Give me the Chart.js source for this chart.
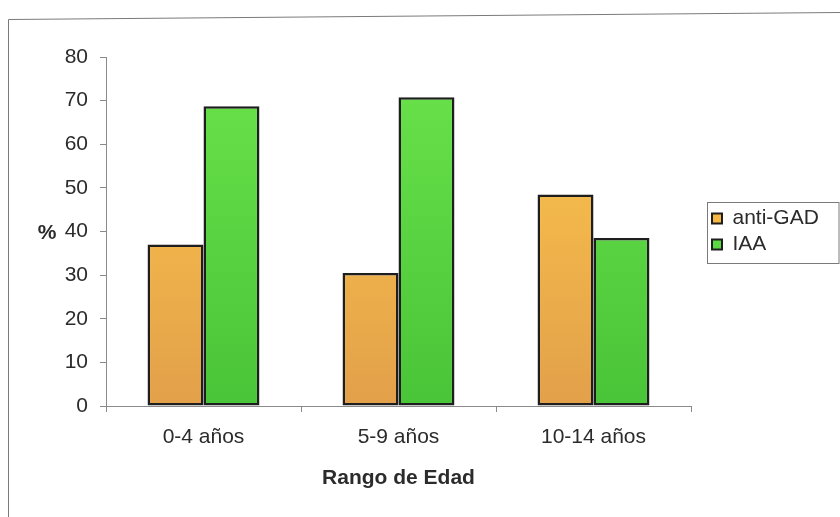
<!DOCTYPE html>
<html>
<head>
<meta charset="utf-8">
<script src="https://cdn.jsdelivr.net/npm/chart.js@4.4.1/dist/chart.umd.min.js"></script>
<style>
  html, body { margin: 0; padding: 0; background: #ffffff; }
  #wrap { width: 840px; height: 517px; position: relative; }
</style>
</head>
<body>
<div id="wrap"><canvas id="chart" width="840" height="517"></canvas></div>
<script>
// Age ranges and percentage of positive antibodies per range
const categories = ['0-4 años', '5-9 años', '10-14 años'];
const antiGAD = [37, 30.5, 48.5];
const IAA = [68.7, 70.8, 38.5];
const yTicks = { min: 0, max: 80, step: 10 };

const FONT = "'Liberation Sans', Arial, sans-serif";
const TEXT = '#2b2b2b';
const AXIS = '#8a8a8a';

function vGradient(ctx, top, bottom) {
  const { chart } = ctx;
  const area = chart.chartArea;
  if (!area) return top;
  const g = chart.ctx.createLinearGradient(0, area.top, 0, area.bottom);
  g.addColorStop(0, top);
  g.addColorStop(1, bottom);
  return g;
}

// Page frame, legend frame and the horizontal "%" axis label
const decorations = {
  id: 'decorations',
  beforeLayout(chart) {
    const lg = chart.legend;
    if (lg && !lg._fixedFit) {
      const fit = lg.fit.bind(lg);
      lg.fit = function () { fit(); this.width = 149; };
      lg._fixedFit = true;
    }
  },
  afterLayout(chart) {
    const lg = chart.legend;
    const area = chart.chartArea;
    if (lg) {
      lg.left += 16; lg.right += 16;
      lg.top = area.top; lg.bottom = area.bottom; lg.height = area.bottom - area.top;
    }
  },
  beforeDraw(chart) {
    const c = chart.ctx;
    c.save();
    c.strokeStyle = '#7a7a7a';
    c.lineWidth = 1;
    c.beginPath();
    c.moveTo(8.5, 517);
    c.lineTo(8.5, 19.5);
    c.lineTo(840, 12.5);
    c.stroke();
    c.restore();
  },
  afterDraw(chart) {
    const c = chart.ctx;
    const lg = chart.legend;
    const area = chart.chartArea;
    c.save();
    // legend frame
    const cy = (lg.top + lg.bottom) / 2;
    c.strokeStyle = '#7a7a7a';
    c.lineWidth = 1;
    c.strokeRect(lg.left + 0.5, Math.round(cy - 30) + 0.5, 839 - lg.left - 0.5, 61);
    // "%" axis title
    c.fillStyle = TEXT;
    c.font = 'bold 21px ' + FONT;
    c.textAlign = 'center';
    c.textBaseline = 'middle';
    c.fillText('%', 47, (area.top + area.bottom) / 2 + 2);
    c.restore();
  }
};

new Chart(document.getElementById('chart'), {
  type: 'bar',
  data: {
    labels: categories,
    datasets: [
      {
        label: 'anti-GAD',
        data: antiGAD,
        backgroundColor: ctx => vGradient(ctx, '#ffc94c', '#e2a04a'),
        borderColor: '#1e1e1e',
        borderWidth: 2.5,
        borderSkipped: false
      },
      {
        label: 'IAA',
        data: IAA,
        backgroundColor: ctx => vGradient(ctx, '#6ae34b', '#4ac438'),
        borderColor: '#1e1e1e',
        borderWidth: 2.5,
        borderSkipped: false
      }
    ]
  },
  options: {
    responsive: false,
    animation: false,
    devicePixelRatio: 1,
    layout: { padding: { top: 57, left: 0, right: 0, bottom: 0 } },
    datasets: { bar: { categoryPercentage: 0.574, barPercentage: 1.0 } },
    plugins: {
      tooltip: { enabled: false },
      legend: {
        position: 'right',
        align: 'center',
        labels: {
          boxWidth: 10,
          boxHeight: 10,
          padding: 5,
          color: TEXT,
          font: { family: FONT, size: 21 },
          generateLabels(chart) {
            const base = Chart.defaults.plugins.legend.labels.generateLabels(chart);
            const fills = ['#f5b845', '#5cd844'];
            return base.map((it, i) => Object.assign(it, { fillStyle: fills[i], strokeStyle: '#1e1e1e', lineWidth: 2 }));
          }
        }
      }
    },
    scales: {
      x: {
        afterFit(scale) { scale.height = 111; },
        grid: { offset: true, drawOnChartArea: false, drawTicks: true, tickLength: 6, color: AXIS },
        border: { color: AXIS, width: 1 },
        ticks: { color: TEXT, font: { family: FONT, size: 21 }, padding: 13, maxRotation: 0 },
        title: {
          display: true,
          text: 'Rango de Edad',
          color: TEXT,
          font: { family: FONT, size: 21, weight: 'bold' },
          padding: { top: 0, bottom: 26 }
        }
      },
      y: {
        min: yTicks.min,
        max: yTicks.max,
        afterFit(scale) { scale.width = 106; },
        grid: { drawOnChartArea: false, drawTicks: true, tickLength: 6, color: AXIS },
        border: { color: AXIS, width: 1 },
        ticks: { stepSize: yTicks.step, color: TEXT, font: { family: FONT, size: 21 }, padding: 12 }
      }
    }
  },
  plugins: [decorations]
});
</script>
</body>
</html>
